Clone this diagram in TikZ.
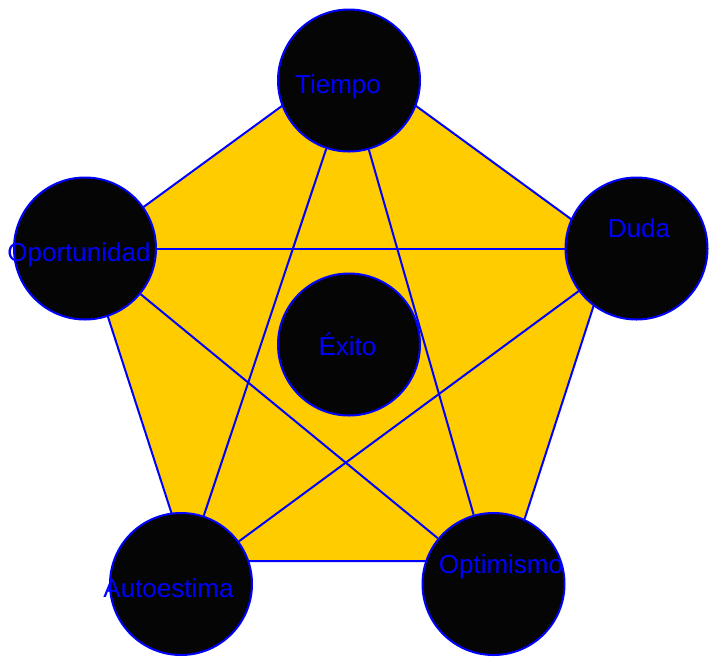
\documentclass[tikz,border=0pt]{standalone}
\usepackage{fontspec}
\setmainfont{Liberation Sans}
\begin{document}
\begin{tikzpicture}[x=1pt,y=-1pt,
  ball/.style={circle,draw=blue,fill=black!98,line width=2pt,minimum size=142pt,inner sep=0pt},
  lbl/.style={anchor=base,text=blue,font=\fontsize{26}{30}\selectfont,inner sep=0pt},
  edge/.style={draw=blue,line width=2pt}]
\useasboundingbox (0,0) rectangle (710,657);
% pentagon
\filldraw[fill={rgb,255:red,255;green,204;blue,0},draw=blue,line width=2pt,line join=miter]
  (349,57) -- (612,249) -- (511,561) -- (187,561) -- (86,249) -- cycle;
% circles
\node[ball] (tiempo) at (349,80.5) {};
\node[ball] (oport) at (85,248.5) {};
\node[ball] (duda) at (636.5,248.5) {};
\node[ball] (auto) at (181,584) {};
\node[ball] (optim) at (493.5,584) {};
\node[ball] (exito) at (349,344.5) {};
% star connectors
\draw[edge] (tiempo) -- (auto);
\draw[edge] (tiempo) -- (optim);
\draw[edge] (oport) -- (duda);
\draw[edge] (oport) -- (optim);
\draw[edge] (duda) -- (auto);
% labels
\node[lbl] (ttiempo) at (338,93) {Tiempo};
\node[lbl] (toport) at (79,261) {Oportunidad};
\node[lbl] (tduda) at (639,237) {Duda};
\node[lbl] (tauto) at (168.5,597) {Autoestima};
\node[lbl] (toptim) at (501,573) {Optimismo};
\node[lbl] (texito) at (347.5,355) {Éxito};
\end{tikzpicture}
\end{document}
